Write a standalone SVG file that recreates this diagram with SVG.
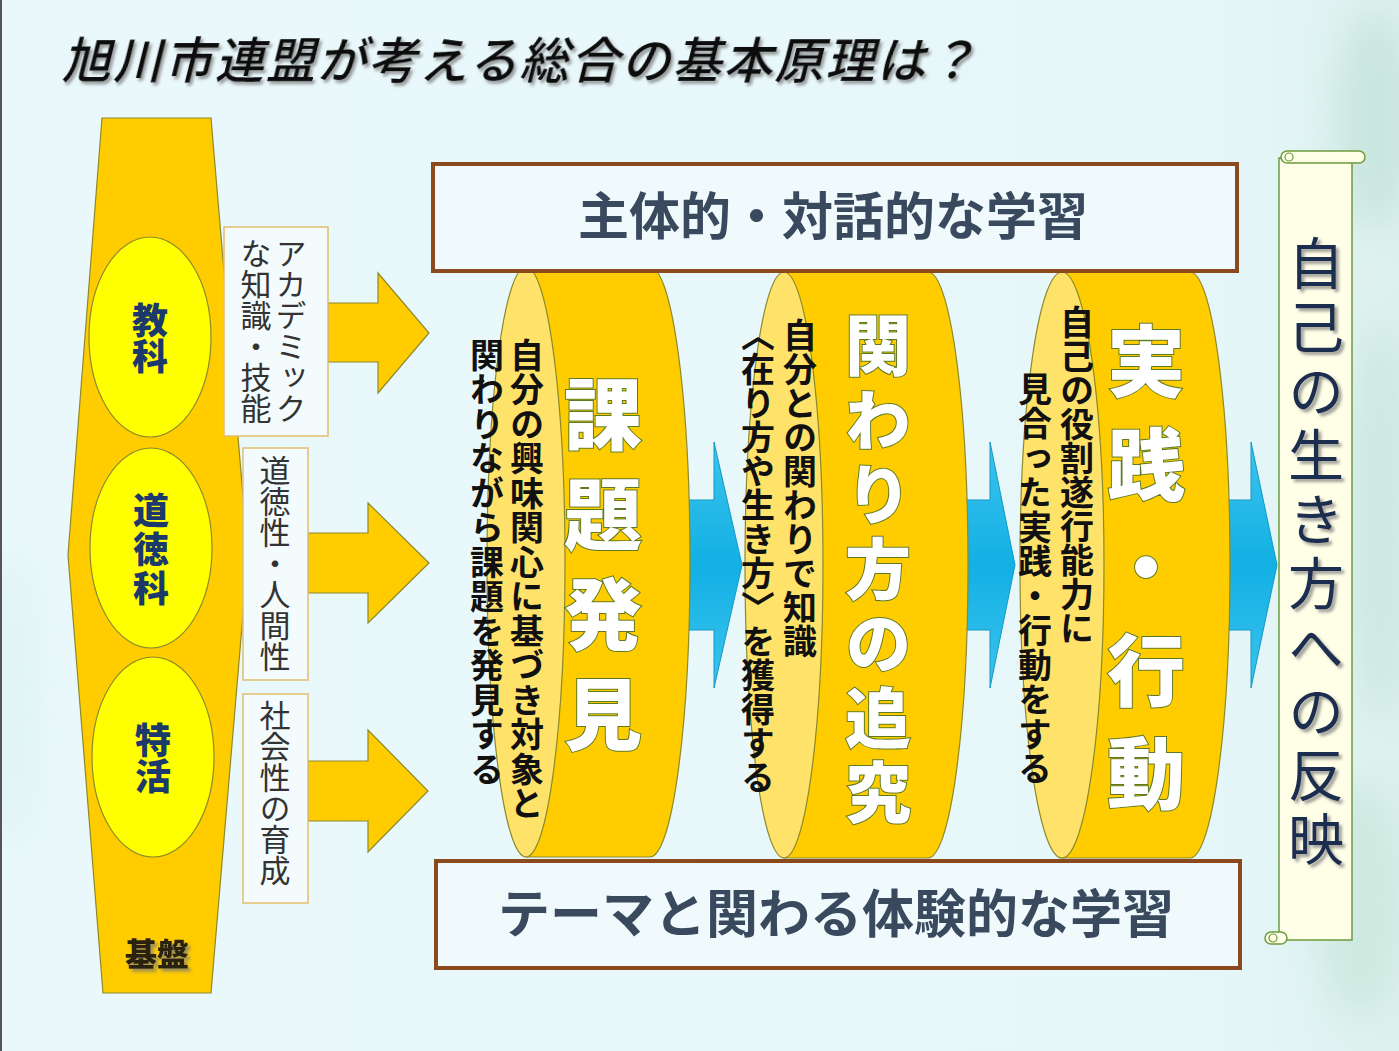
<svg xmlns="http://www.w3.org/2000/svg" width="1399" height="1051" viewBox="0 0 1399 1051">
<defs>
<style>
.jp{font-family:"Noto Sans CJK JP","Noto Sans CJK SC",sans-serif}
.v{writing-mode:vertical-rl}
.gold{fill:#FFCC00;stroke:#8C8A2A;stroke-width:1.2}
.face{fill:#FFE26A;stroke:#8C8A2A;stroke-width:1.2}
.yel{fill:#FFFF00;stroke:#8C8A2A;stroke-width:1.2}
.blue{fill:url(#bl);stroke:#1597C4;stroke-width:1}
.tbox{fill:#F4FBFD;stroke:#E2BE6E;stroke-width:1.5}
.bbox{fill:#F0FAFC;stroke:#8B4A1E;stroke-width:4}
.small{font-size:34px;font-weight:700;fill:#111}
.big{font-weight:900;fill:#fff;stroke:#5E7A22;stroke-width:2;paint-order:stroke}
.lbl{font-size:36px;font-weight:900;fill:#1B3A6B}
.side{font-size:31px;font-weight:400;fill:#333}
.band{font-weight:700;fill:#3A4A5E}
</style>
<filter id="sh" x="-10%" y="-10%" width="130%" height="130%"><feDropShadow dx="3" dy="3" stdDeviation="1.5" flood-color="#777" flood-opacity="0.7"/></filter>
<filter id="blur" x="-50%" y="-50%" width="200%" height="200%"><feGaussianBlur stdDeviation="18"/></filter>
<linearGradient id="bg" x1="0" y1="0" x2="1" y2="0"><stop offset="0" stop-color="#EAF8FB"/><stop offset="0.85" stop-color="#E6F7FA"/><stop offset="1" stop-color="#DDF1EE"/></linearGradient>
<linearGradient id="bl" x1="0" y1="0" x2="0" y2="1"><stop offset="0" stop-color="#3CC4EE"/><stop offset="0.5" stop-color="#12B0E4"/><stop offset="1" stop-color="#3CC4EE"/></linearGradient>
</defs>
<rect x="0" y="0" width="1399" height="1051" fill="url(#bg)"/>
<g opacity="0.5" filter="url(#blur)">
<ellipse cx="1375" cy="120" rx="40" ry="110" fill="#B5DACE"/>
<ellipse cx="1380" cy="520" rx="30" ry="200" fill="#BADDD6"/>
<ellipse cx="1360" cy="900" rx="45" ry="120" fill="#BEE0D2"/>
<ellipse cx="15" cy="700" rx="20" ry="150" fill="#D0ECEC"/>
</g>
<line x1="1" y1="0" x2="1" y2="1051" stroke="#555" stroke-width="2"/>

<g id="title">
<text class="jp" transform="translate(62,78) skewX(-14)" font-size="49" font-weight="500" letter-spacing="2" fill="#111" filter="url(#sh)">旭川市連盟が考える総合の基本原理は？</text>
</g>

<g id="connectors">
<path class="gold" d="M328,303 H378 V273 L429,333 L378,393 V362 H328 Z"/>
<path class="gold" d="M308,533 H368 V503 L429,563 L368,623 V593 H308 Z"/>
<path class="gold" d="M308,761 H368 V730 L428,791 L368,852 V821 H308 Z"/>
<path class="blue" d="M686,500 H714 V442 L742,565 L714,688 V630 H686 Z"/>
<path class="blue" d="M964,500 H990 V442 L1015,565 L990,688 V630 H964 Z"/>
<path class="blue" d="M1226,500 H1251 V442 L1277,565 L1251,688 V630 H1226 Z"/>
</g>

<g id="base">
<polygon class="gold" points="102,118 211,118 248,555 211,993 103,993 68,555"/>
<text class="jp" x="157" y="966" text-anchor="middle" font-size="32" font-weight="900" fill="#2B2010" filter="url(#sh)">基盤</text>
</g>
<g id="kyoka">
<ellipse class="yel" cx="150" cy="337" rx="61" ry="100"/>
<text class="jp v lbl" x="150" y="302">教科</text>
</g>
<g id="doutoku">
<ellipse class="yel" cx="151" cy="548" rx="61" ry="100"/>
<text class="jp v lbl" x="151" y="492" letter-spacing="3">道徳科</text>
</g>
<g id="tokkatsu">
<ellipse class="yel" cx="153" cy="757" rx="61" ry="100"/>
<text class="jp v lbl" x="153" y="722">特活</text>
</g>

<g id="box-academic">
<rect class="tbox" x="224" y="227" width="104" height="209"/>
<text class="jp v side" x="291" y="238">アカデミック</text>
<text class="jp v side" x="256" y="238">な知識・技能</text>
</g>
<g id="box-moral">
<rect class="tbox" x="243" y="448" width="65" height="232"/>
<text class="jp v side" x="275" y="455">道徳性・人間性</text>
</g>
<g id="box-social">
<rect class="tbox" x="243" y="694" width="65" height="209"/>
<text class="jp v side" x="275" y="700">社会性の育成</text>
</g>

<g id="cyl-kadai">
<path class="gold" d="M526,267 H650 A40,295 0 0 1 650,857 H526 Z"/>
<ellipse class="face" cx="526" cy="562" rx="39" ry="295"/>
<text class="jp v small" x="527" y="338" letter-spacing="0.5">自分の興味関心に基づき対象と</text>
<text class="jp v small" x="487" y="338" letter-spacing="0.5">関わりながら課題を発見する</text>
<text class="jp v big" x="603" y="375" font-size="78" letter-spacing="22">課題発見</text>
</g>
<g id="cyl-kakawari">
<path class="gold" d="M784,272 H928 A40,293 0 0 1 928,858 H784 Z"/>
<ellipse class="face" cx="784" cy="565" rx="39" ry="293"/>
<text class="jp v small" x="800" y="318">自分との関わりで知識</text>
<text class="jp v small" x="758" y="318">〈在り方や生き方〉を獲得する</text>
<text class="jp v big" x="878" y="312" font-size="66" letter-spacing="8.5">関わり方の追究</text>
</g>
<g id="cyl-jissen">
<path class="gold" d="M1062,272 H1190 A40,293 0 0 1 1190,858 H1062 Z"/>
<ellipse class="face" cx="1062" cy="565" rx="42" ry="293"/>
<text class="jp v small" x="1077" y="305" font-size="33">自己の役割遂行能力に</text>
<text class="jp v small" x="1035" y="372" font-size="31" letter-spacing="0.5">見合った実践・行動をする</text>
<text class="jp v big" x="1146" y="322" font-size="78" letter-spacing="25">実践・行動</text>
</g>

<g id="band-top">
<rect class="bbox" x="433" y="164" width="804" height="107"/>
<text class="jp band" x="833" y="235" text-anchor="middle" font-size="51">主体的・対話的な学習</text>
</g>
<g id="band-bottom">
<rect class="bbox" x="436" y="861" width="804" height="107"/>
<text class="jp band" x="836" y="933" text-anchor="middle" font-size="52">テーマと関わる体験的な学習</text>
</g>

<g id="scroll">
<rect x="1279" y="158" width="73" height="782" fill="#FFFFE8" stroke="#6E9A3C" stroke-width="1.5"/>
<rect x="1281" y="151" width="84" height="12" rx="6" fill="#FFFFE8" stroke="#6E9A3C" stroke-width="1.5"/>
<circle cx="1289" cy="157" r="4" fill="none" stroke="#6E9A3C" stroke-width="1.2"/>
<rect x="1265" y="932" width="22" height="12" rx="6" fill="#FFFFE8" stroke="#6E9A3C" stroke-width="1.5"/>
<circle cx="1273" cy="938" r="4" fill="none" stroke="#6E9A3C" stroke-width="1.2"/>
<text class="jp v" x="1316" y="235" font-size="56" letter-spacing="8" fill="#1F2F4F" filter="url(#sh)">自己の生き方への反映</text>
</g>
</svg>
